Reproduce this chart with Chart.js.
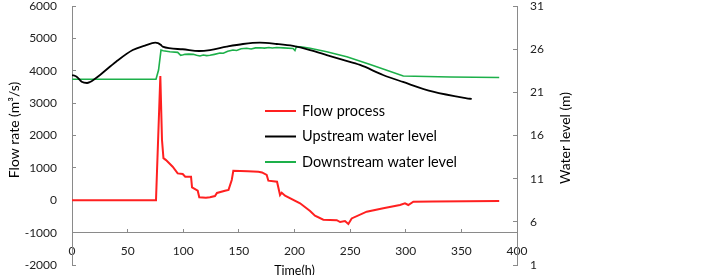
<!DOCTYPE html>
<html>
<head>
<meta charset="utf-8">
<script src="https://cdn.jsdelivr.net/npm/chart.js@4"></script>
<style>
  html, body { margin: 0; padding: 0; background: #fff; }
  #wrap { width: 722px; height: 275px; position: relative; }
</style>
</head>
<body>
<div id="wrap"><canvas id="c" width="722" height="275"></canvas></div>
<script>
// ---- Data ----
const seriesNames = ['Flow process', 'Upstream water level', 'Downstream water level'];
const axisTitles = { x: 'Time(h)', left: 'Flow rate (m³/s)', right: 'Water level (m)' };

const xTicks = [0, 50, 100, 150, 200, 250, 300, 350, 400];
const leftTicks = [-2000, -1000, 0, 1000, 2000, 3000, 4000, 5000, 6000];
const rightTicks = [1, 6, 11, 16, 21, 26, 31];

const flowTime = [0, 75.5, 79.4, 80.9, 82.2, 84.5, 90.5, 95, 99.5, 101.8, 107, 107.9, 113, 114.4, 120.4, 124, 128.5, 130.3, 137.5, 140.7, 143.6, 145, 158, 167.5, 170.8, 175, 176.5, 184.3, 187, 188.5, 191.5, 205, 214, 218.4, 225.9, 238, 241, 245.4, 248.4, 251.4, 264.9, 279.8, 294.8, 299.3, 302.3, 306.8, 324.5, 384];
const flowValue = [0, 0, 3840, 1860, 1300, 1240, 1036, 830, 811, 727, 727, 400, 295, 91, 79, 91, 131, 225, 295, 320, 625, 912, 895, 881, 860, 780, 604, 573, 160, 233, 140, -95, -330, -478, -600, -615, -672, -641, -734, -561, -354, -250, -147, -95, -147, -45, -40, -23];

const upTime = [0, 4.2, 8.7, 13.5, 16.2, 19.8, 25.2, 39.6, 54.6, 65.6, 74.9, 77.3, 80, 81.5, 99.5, 114.2, 124, 139, 153.7, 168.9, 184, 198.7, 214, 229, 243.6, 258.9, 279.6, 297.5, 324.5, 354.8, 359.3];
const upLevel = [23.01, 22.81, 22.23, 22.08, 22.2, 22.49, 23.01, 24.55, 25.9, 26.42, 26.75, 26.71, 26.48, 26.29, 25.99, 25.79, 25.9, 26.29, 26.6, 26.75, 26.6, 26.37, 25.9, 25.32, 24.75, 24.17, 23.01, 22.2, 21.07, 20.31, 20.23];

const downTime = [0, 75.5, 77.8, 80, 82, 88, 95, 97.7, 100, 101.6, 105, 109, 112, 115, 118, 121, 124, 128, 133, 136, 140, 144.7, 148, 152, 157, 161, 165, 169, 173, 177, 180, 184, 190, 198.7, 200.4, 201.8, 207, 214, 229, 247, 268, 297.8, 340, 384];
const downLevel = [22.51, 22.51, 23.59, 25.9, 25.82, 25.7, 25.63, 25.29, 25.35, 25.4, 25.42, 25.4, 25.3, 25.21, 25.33, 25.25, 25.29, 25.4, 25.55, 25.52, 25.75, 25.9, 25.85, 26.05, 26.1, 26.02, 26.15, 26.17, 26.12, 26.2, 26.14, 26.19, 26.15, 26.08, 25.85, 26.31, 26.25, 26.1, 25.71, 25.13, 24.23, 22.89, 22.78, 22.72];

const seriesColors = ['#FF2020', '#000000', '#1DB04A'];

// ---- Build datasets ----
const toPoints = (xs, ys) => xs.map((x, i) => ({ x: x, y: ys[i] }));
const plain = (v) => String(v);

const FONT = 'Lato, "Liberation Sans", sans-serif';
const axisColor = '#8a8a8a';

const overlayPlugin = {
  id: 'overlay',
  afterDraw(chart) {
    const ctx = chart.ctx;
    ctx.save();
    // Legend inside plot
    const rows = [111, 136.5, 162];
    ctx.font = '14.5px ' + FONT;
    ctx.textBaseline = 'middle';
    ctx.textAlign = 'left';
    seriesNames.forEach((name, i) => {
      ctx.strokeStyle = seriesColors[i];
      ctx.lineWidth = 2;
      ctx.beginPath();
      ctx.moveTo(265, rows[i]);
      ctx.lineTo(296, rows[i]);
      ctx.stroke();
      ctx.fillStyle = '#000';
      ctx.fillText(name, 302, rows[i]);
    });
    // Y-axis titles (both read bottom-to-top)
    ctx.font = '14px ' + FONT;
    ctx.textAlign = 'center';
    ctx.fillStyle = '#000';
    ctx.save();
    ctx.translate(14, 130);
    ctx.rotate(-Math.PI / 2);
    ctx.fillText(axisTitles.left, 0, 0);
    ctx.restore();
    ctx.save();
    ctx.translate(565, 138);
    ctx.rotate(-Math.PI / 2);
    ctx.fillText(axisTitles.right, 0, 0);
    ctx.restore();
    ctx.restore();
  }
};

const fitY = (w) => (s) => { s.width = w; s.paddingTop = 6; s.paddingBottom = 6; };

new Chart(document.getElementById('c'), {
  type: 'line',
  data: {
    datasets: [
      { label: seriesNames[0], data: toPoints(flowTime, flowValue), yAxisID: 'y',
        borderColor: seriesColors[0], borderWidth: 2, pointRadius: 0, tension: 0 },
      { label: seriesNames[1], data: toPoints(upTime, upLevel), yAxisID: 'y2',
        borderColor: seriesColors[1], borderWidth: 1.8, pointRadius: 0, cubicInterpolationMode: 'monotone' },
      { label: seriesNames[2], data: toPoints(downTime, downLevel), yAxisID: 'y2',
        borderColor: seriesColors[2], borderWidth: 1.6, pointRadius: 0, tension: 0 }
    ]
  },
  options: {
    responsive: false,
    animation: false,
    layout: { padding: { left: 0, right: 145, top: 0, bottom: 10 } },
    plugins: { legend: { display: false }, tooltip: { enabled: false } },
    scales: {
      x: {
        type: 'linear',
        position: { y: -1000 },
        min: xTicks[0], max: xTicks[xTicks.length - 1],
        afterBuildTicks: (s) => { s.ticks = xTicks.map(v => ({ value: v })); },
        grid: { drawOnChartArea: false, tickLength: -4, color: axisColor },
        border: { color: axisColor, width: 1 },
        ticks: { padding: 15, color: '#222', font: { family: FONT, size: 12 }, maxRotation: 0, callback: plain },
        title: { display: true, text: axisTitles.x, color: '#000', font: { family: FONT, size: 12.5 }, padding: { top: -10, bottom: 0 } }
      },
      y: {
        position: 'left',
        min: leftTicks[0], max: leftTicks[leftTicks.length - 1],
        afterBuildTicks: (s) => { s.ticks = leftTicks.map(v => ({ value: v })); },
        afterFit: fitY(72),
        grid: { drawOnChartArea: false, tickLength: -4, color: axisColor },
        border: { color: axisColor, width: 1 },
        ticks: { padding: 19, color: '#222', font: { family: FONT, size: 12, lineHeight: 1 }, callback: plain }
      },
      y2: {
        position: 'right',
        min: rightTicks[0], max: rightTicks[rightTicks.length - 1],
        afterBuildTicks: (s) => { s.ticks = rightTicks.map(v => ({ value: v })); },
        afterFit: fitY(60),
        grid: { drawOnChartArea: false, tickLength: -4, color: axisColor },
        border: { color: axisColor, width: 1 },
        ticks: { padding: 17, color: '#222', font: { family: FONT, size: 12, lineHeight: 1 }, callback: plain }
      }
    }
  },
  plugins: [overlayPlugin]
});
</script>
</body>
</html>
